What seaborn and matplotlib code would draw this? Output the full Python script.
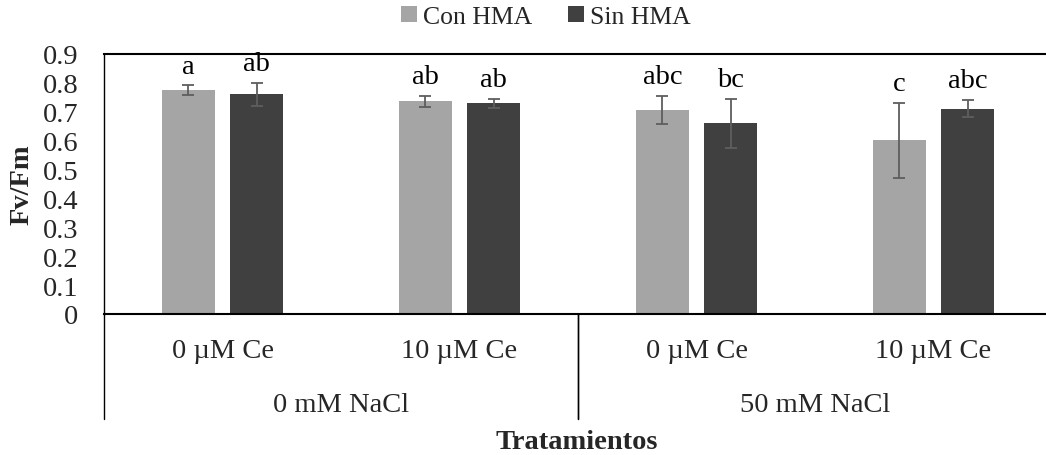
import numpy as np
import pandas as pd
import matplotlib
matplotlib.use("Agg")
import matplotlib.pyplot as plt
import matplotlib.transforms as mtransforms
import seaborn as sns

# ---- data ----
nacl = ["0 mM NaCl", "0 mM NaCl", "50 mM NaCl", "50 mM NaCl"]
ce = ["0 µM Ce", "10 µM Ce", "0 µM Ce", "10 µM Ce"]
series = ["Con HMA", "Sin HMA"]
con_mean = [0.775, 0.737, 0.707, 0.602]
con_err = [0.016, 0.019, 0.048, 0.130]
sin_mean = [0.760, 0.729, 0.660, 0.711]
sin_err = [0.041, 0.015, 0.085, 0.029]
con_letters = ["a", "ab", "abc", "c"]
sin_letters = ["ab", "ab", "bc", "abc"]
yticks = [0, 0.1, 0.2, 0.3, 0.4, 0.5, 0.6, 0.7, 0.8, 0.9]
ytick_labels = ["0", "0.1", "0.2", "0.3", "0.4", "0.5", "0.6", "0.7", "0.8", "0.9"]
colors = ["#A5A5A5", "#404040"]

sns.set_theme(style="white")
plt.rcParams["font.family"] = ["Liberation Serif", "DejaVu Serif"]
FS = 20.5
FS_LEG = 18.5

trat = [f"{a}|{b}" for a, b in zip(nacl, ce)]
df = pd.DataFrame({
    "trat": trat * 2,
    "grupo": [series[0]] * 4 + [series[1]] * 4,
    "val": con_mean + sin_mean,
})

fig = plt.figure(figsize=(10.46, 4.56), dpi=100)
W, H = 1046, 456
ax = fig.add_axes([104 / W, (H - 315) / H, (1052 - 104) / W, (315 - 55) / H])

sns.barplot(data=df, x="trat", y="val", hue="grupo", order=trat,
            hue_order=series, palette=colors, width=0.574, gap=0.22,
            errorbar=None, linewidth=0, saturation=1, ax=ax)

means = [con_mean, sin_mean]
errs = [con_err, sin_err]
letters = [con_letters, sin_letters]
for cont, m, e, lab in zip(ax.containers, means, errs, letters):
    xs = [p.get_x() + p.get_width() / 2 for p in cont.patches]
    ax.errorbar(xs, m, yerr=e, fmt="none", ecolor="#5E5E5E", elinewidth=1.3,
                capsize=4.5, capthick=1.3, zorder=5)
    for x, mm, ee, t in zip(xs, m, e, lab):
        ax.annotate(t, (x, mm + ee), xytext=(0, 5), textcoords="offset points",
                    ha="center", va="bottom", fontsize=FS, color="black")

ax.set_ylim(0, 0.9)
ax.set_xlim(-0.5, 3.5)
ax.set_yticks(yticks)
ax.set_yticklabels(ytick_labels, fontsize=FS)
ax.tick_params(axis="y", length=0, pad=18.5)
ax.set_xticks([])
ax.set_xlabel("")
ax.set_ylabel("")
fig.text(22 / W, (H - 185) / H, "Fv/Fm", rotation=90, ha="center", va="center",
         fontsize=FS, fontweight="bold")

for s in ["left", "top", "bottom", "right"]:
    ax.spines[s].set_visible(True)
    ax.spines[s].set_color("black")
    ax.spines[s].set_linewidth(1.5)
ax.spines["left"].set_linewidth(1.0)
ax.spines["right"].set_linewidth(1.0)

# multi-level category axis
trans = mtransforms.blended_transform_factory(ax.transData, ax.transAxes)
for i, c in enumerate(ce):
    ax.text(i, -0.141, c, transform=trans, ha="center", va="center", fontsize=FS)
outer = []
for i, n in enumerate(nacl):
    if not outer or outer[-1][0] != n:
        outer.append([n, i, i])
    else:
        outer[-1][2] = i
for n, a, b in outer:
    ax.text((a + b) / 2, -0.35, n, transform=trans, ha="center", va="center", fontsize=FS)
    for xb in (a - 0.5, b + 0.5):
        ax.plot([xb, xb], [0, -0.404], transform=trans, color="black", lw=1.0, clip_on=False)

fig.text(577 / W, (H - 443) / H, "Tratamientos", ha="center", va="center",
         fontsize=FS, fontweight="bold")

handles, labels = ax.get_legend_handles_labels()
if ax.get_legend() is not None:
    ax.get_legend().remove()
fig.legend(handles, labels, loc="center", bbox_to_anchor=(546 / W, (H - 18) / H),
           ncol=2, frameon=False, fontsize=FS_LEG, handlelength=0.6, handleheight=0.6,
           handletextpad=0.25, columnspacing=1.4)

fig.savefig("out.png", dpi=100)
